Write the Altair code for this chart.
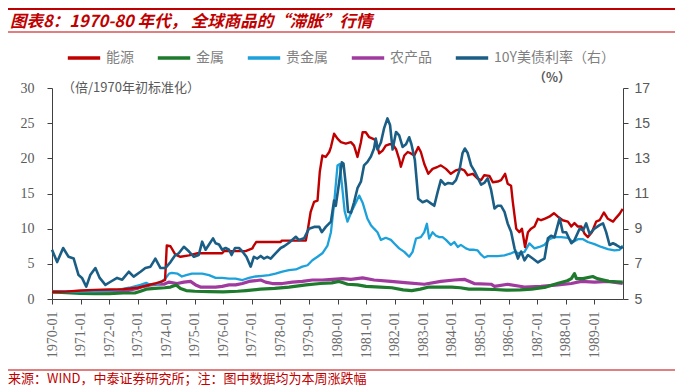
import altair as alt
import pandas as pd

names = ["能源", "金属", "贵金属", "农产品", "10Y美债利率（右）"]
colors = ["#C00000", "#1E7B2E", "#1DA1DB", "#A03A9E", "#1B5E85"]

# 能源 (left axis, 倍)
energy_t = [1970.0, 1970.5, 1971.0, 1971.5, 1972.0, 1972.5, 1973.0, 1973.3, 1973.6, 1973.85, 1973.96, 1974.02, 1974.15, 1974.32, 1974.5, 1974.8, 1975.1, 1975.96, 1976.02, 1976.78, 1977.02, 1977.07, 1977.15, 1978.01, 1978.05, 1978.89, 1978.95, 1979.06, 1979.18, 1979.3, 1979.38, 1979.47, 1979.59, 1979.71, 1979.77, 1979.88, 1980.0, 1980.12, 1980.29, 1980.47, 1980.58, 1980.7, 1980.82, 1980.88, 1980.99, 1981.11, 1981.23, 1981.34, 1981.46, 1981.58, 1981.69, 1981.81, 1981.93, 1982.05, 1982.16, 1982.22, 1982.34, 1982.46, 1982.57, 1982.69, 1982.83, 1982.92, 1983.04, 1983.18, 1983.33, 1983.51, 1983.62, 1983.8, 1983.97, 1984.15, 1984.32, 1984.44, 1984.56, 1984.74, 1984.91, 1985.03, 1985.14, 1985.32, 1985.44, 1985.61, 1985.73, 1985.87, 1985.96, 1986.08, 1986.14, 1986.26, 1986.37, 1986.46, 1986.57, 1986.67, 1986.78, 1986.9, 1987.02, 1987.13, 1987.25, 1987.42, 1987.58, 1987.72, 1987.89, 1988.07, 1988.19, 1988.3, 1988.42, 1988.54, 1988.65, 1988.77, 1988.91, 1989.06, 1989.18, 1989.33, 1989.47, 1989.65, 1989.75, 1989.88, 1989.99]
energy_v = [1.0, 1.05, 1.2, 1.3, 1.35, 1.4, 1.6, 1.9, 2.2, 2.5, 2.7, 7.6, 7.5, 6.3, 6.0, 6.2, 6.5, 6.5, 6.8, 6.8, 7.2, 7.6, 8.1, 8.1, 8.3, 8.3, 9.6, 12.4, 13.8, 14.0, 18.1, 20.4, 20.2, 20.9, 21.6, 23.5, 22.8, 22.3, 22.1, 22.3, 21.8, 20.2, 22.3, 23.7, 23.7, 23.0, 22.8, 22.6, 20.7, 21.1, 21.8, 22.0, 22.0, 21.3, 19.9, 18.8, 20.4, 20.9, 20.7, 20.4, 21.6, 20.9, 19.2, 17.8, 18.5, 18.8, 19.0, 18.5, 17.8, 18.3, 18.5, 18.3, 17.6, 17.8, 17.1, 16.9, 17.6, 17.5, 16.6, 16.7, 16.9, 17.8, 16.4, 16.1, 13.8, 10.0, 9.5, 10.0, 7.4, 9.5, 10.0, 10.3, 11.4, 11.2, 11.4, 11.7, 12.2, 11.7, 11.2, 11.0, 10.3, 10.8, 10.3, 10.3, 9.3, 8.8, 9.5, 11.0, 11.2, 12.3, 11.4, 11.0, 11.5, 12.1, 12.8]

# 金属
metals_t = [1970.0, 1970.5, 1971.0, 1971.5, 1972.0, 1972.5, 1972.9, 1973.1, 1973.3, 1973.6, 1973.95, 1974.15, 1974.35, 1974.5, 1974.7, 1975.0, 1975.5, 1976.0, 1976.5, 1976.8, 1977.3, 1977.8, 1978.3, 1978.9, 1979.4, 1979.8, 1980.05, 1980.2, 1980.35, 1980.7, 1981.0, 1981.5, 1981.9, 1982.3, 1982.6, 1982.9, 1983.2, 1983.6, 1984.0, 1984.3, 1984.6, 1985.0, 1985.5, 1985.9, 1986.4, 1986.8, 1987.3, 1987.7, 1988.05, 1988.19, 1988.3, 1988.37, 1988.6, 1988.94, 1989.1, 1989.5, 1989.8, 1989.99]
metals_v = [1.0, 0.9, 0.8, 0.75, 0.75, 0.85, 0.85, 1.1, 1.4, 1.5, 1.6, 1.7, 2.0, 1.5, 1.2, 1.1, 1.05, 1.0, 1.1, 1.2, 1.4, 1.5, 1.7, 2.0, 2.2, 2.3, 2.5, 2.3, 2.1, 2.0, 1.8, 1.7, 1.6, 1.3, 1.2, 1.4, 1.7, 1.7, 1.7, 1.6, 1.4, 1.4, 1.35, 1.25, 1.3, 1.4, 1.7, 2.2, 2.6, 2.9, 3.6, 2.9, 2.9, 3.2, 2.9, 2.5, 2.45, 2.4]

# 贵金属
precious_t = [1970.0, 1970.5, 1971.0, 1971.5, 1972.0, 1972.3, 1972.7, 1972.9, 1973.1, 1973.3, 1973.45, 1973.75, 1973.97, 1974.1, 1974.2, 1974.4, 1974.55, 1974.7, 1974.9, 1975.03, 1975.26, 1975.5, 1975.73, 1975.96, 1976.2, 1976.43, 1976.67, 1976.9, 1977.13, 1977.37, 1977.6, 1977.83, 1978.07, 1978.3, 1978.54, 1978.77, 1978.95, 1979.12, 1979.3, 1979.47, 1979.65, 1979.77, 1979.88, 1980.0, 1980.08, 1980.16, 1980.25, 1980.35, 1980.5, 1980.62, 1980.76, 1980.88, 1981.05, 1981.17, 1981.28, 1981.4, 1981.52, 1981.69, 1981.87, 1981.99, 1982.16, 1982.34, 1982.51, 1982.63, 1982.75, 1982.92, 1983.04, 1983.13, 1983.21, 1983.33, 1983.45, 1983.57, 1983.68, 1983.8, 1983.97, 1984.09, 1984.21, 1984.32, 1984.5, 1984.62, 1984.79, 1984.91, 1985.03, 1985.14, 1985.26, 1985.38, 1985.61, 1985.85, 1986.08, 1986.2, 1986.37, 1986.55, 1986.72, 1986.9, 1987.07, 1987.25, 1987.42, 1987.6, 1987.83, 1988.07, 1988.25, 1988.42, 1988.6, 1988.77, 1989.0, 1989.24, 1989.47, 1989.7, 1989.88, 1989.99]
precious_v = [1.0, 1.0, 1.05, 1.1, 1.15, 1.3, 1.6, 1.8, 2.0, 2.3, 2.0, 2.2, 2.9, 3.6, 3.7, 3.6, 3.2, 3.4, 3.6, 3.6, 3.6, 3.4, 3.0, 3.0, 2.9, 2.9, 2.7, 3.0, 3.2, 3.3, 3.4, 3.6, 3.9, 4.1, 4.2, 4.6, 4.8, 5.5, 6.0, 6.5, 7.6, 9.5, 13.5, 19.0, 19.2, 16.1, 12.5, 11.0, 12.5, 13.5, 14.7, 13.7, 11.4, 10.5, 10.0, 9.5, 8.4, 8.7, 8.4, 7.9, 7.2, 6.7, 6.0, 6.7, 8.6, 8.8, 9.5, 10.7, 8.6, 9.5, 9.0, 8.8, 8.8, 8.4, 7.7, 8.1, 7.4, 7.7, 7.2, 7.0, 7.0, 6.9, 6.3, 5.9, 6.1, 6.1, 6.1, 6.2, 6.5, 6.7, 6.5, 6.7, 7.9, 7.2, 7.4, 7.7, 8.5, 8.8, 8.8, 8.7, 8.1, 8.5, 8.5, 8.1, 7.8, 7.4, 7.1, 6.9, 7.0, 7.6]

# 农产品
agri_t = [1970.0, 1971.0, 1972.0, 1972.3, 1972.63, 1972.98, 1973.21, 1973.45, 1973.68, 1973.92, 1974.09, 1974.38, 1974.62, 1974.85, 1975.03, 1975.2, 1975.5, 1975.73, 1975.96, 1976.2, 1976.43, 1976.67, 1976.9, 1977.13, 1977.31, 1977.48, 1977.72, 1978.07, 1978.42, 1978.77, 1979.12, 1979.47, 1979.82, 1980.18, 1980.47, 1980.88, 1981.28, 1981.87, 1982.46, 1983.04, 1983.62, 1984.09, 1984.44, 1984.79, 1985.38, 1985.5, 1985.96, 1986.55, 1987.13, 1987.72, 1988.19, 1988.54, 1989.0, 1989.47, 1989.99]
agri_v = [1.0, 1.05, 1.1, 1.1, 1.2, 1.5, 1.8, 2.0, 2.1, 2.1, 2.4, 2.2, 2.4, 2.5, 2.0, 1.7, 1.7, 1.7, 1.8, 2.0, 2.0, 2.2, 2.5, 2.6, 2.7, 2.4, 2.2, 2.2, 2.4, 2.5, 2.7, 2.7, 2.8, 2.9, 2.8, 3.0, 2.7, 2.5, 2.3, 2.1, 2.5, 2.7, 2.8, 2.2, 2.1, 1.8, 2.1, 1.7, 1.8, 2.0, 2.2, 2.5, 2.4, 2.5, 2.2]

# 10Y美债利率 (right axis, %)
rate_t = [1970.0, 1970.18, 1970.39, 1970.58, 1970.76, 1970.93, 1971.05, 1971.2, 1971.34, 1971.52, 1971.67, 1971.87, 1972.05, 1972.28, 1972.46, 1972.69, 1972.86, 1973.1, 1973.27, 1973.45, 1973.62, 1973.8, 1973.97, 1974.15, 1974.32, 1974.44, 1974.62, 1974.8, 1974.97, 1975.14, 1975.26, 1975.38, 1975.5, 1975.64, 1975.73, 1975.85, 1975.96, 1976.08, 1976.2, 1976.29, 1976.41, 1976.55, 1976.67, 1976.81, 1976.96, 1977.07, 1977.19, 1977.31, 1977.42, 1977.54, 1977.66, 1977.83, 1978.01, 1978.13, 1978.3, 1978.54, 1978.65, 1978.83, 1979.0, 1979.18, 1979.36, 1979.45, 1979.59, 1979.77, 1979.88, 1979.94, 1980.06, 1980.15, 1980.21, 1980.29, 1980.37, 1980.47, 1980.58, 1980.7, 1980.82, 1980.93, 1981.05, 1981.17, 1981.28, 1981.34, 1981.4, 1981.52, 1981.63, 1981.75, 1981.84, 1981.93, 1982.05, 1982.16, 1982.28, 1982.4, 1982.51, 1982.59, 1982.71, 1982.83, 1982.98, 1983.13, 1983.27, 1983.39, 1983.51, 1983.62, 1983.76, 1983.88, 1984.03, 1984.15, 1984.27, 1984.38, 1984.46, 1984.56, 1984.68, 1984.79, 1984.91, 1985.03, 1985.14, 1985.26, 1985.38, 1985.5, 1985.61, 1985.73, 1985.85, 1985.96, 1986.08, 1986.2, 1986.32, 1986.43, 1986.55, 1986.67, 1986.84, 1987.02, 1987.13, 1987.25, 1987.37, 1987.48, 1987.6, 1987.78, 1987.89, 1988.01, 1988.19, 1988.3, 1988.48, 1988.6, 1988.71, 1988.83, 1989.0, 1989.18, 1989.3, 1989.41, 1989.53, 1989.65, 1989.77, 1989.94, 1989.99]
rate_v = [7.8, 7.1, 7.9, 7.4, 7.3, 6.36, 6.2, 5.7, 6.36, 6.76, 6.2, 5.8, 5.98, 6.2, 6.1, 6.55, 6.27, 6.55, 6.76, 6.84, 7.3, 6.76, 6.76, 7.1, 7.5, 7.6, 7.97, 7.7, 7.4, 7.5, 8.26, 7.8, 8.1, 8.45, 8.17, 8.1, 7.8, 7.9, 7.8, 7.5, 7.9, 7.9, 7.7, 7.4, 6.84, 7.4, 7.3, 7.45, 7.3, 7.4, 7.3, 7.6, 7.9, 8.0, 8.2, 8.54, 8.35, 8.45, 9.0, 9.1, 9.1, 8.8, 9.1, 9.4, 10.6, 10.3, 11.67, 12.77, 12.7, 11.5, 9.96, 9.9, 10.5, 11.3, 11.67, 12.6, 12.8, 13.1, 13.56, 14.13, 13.5, 13.9, 14.7, 15.27, 14.9, 13.5, 14.5, 14.3, 13.65, 13.8, 14.2, 13.8, 12.9, 10.7, 10.5, 10.6, 10.44, 10.3, 11.1, 11.76, 11.5, 11.6, 11.55, 11.76, 12.3, 13.3, 13.56, 13.3, 12.6, 12.3, 11.9, 11.5, 11.6, 11.86, 11.2, 10.15, 10.3, 10.3, 9.96, 9.3, 8.83, 7.88, 7.3, 7.7, 7.2, 7.5, 7.3, 7.08, 7.2, 7.3, 8.45, 8.6, 8.5, 9.6, 8.8, 8.8, 8.17, 8.35, 9.0, 8.9, 9.3, 8.7, 9.0, 9.2, 9.3, 8.8, 8.07, 8.17, 8.07, 7.9, 7.97]

year_ticks = list(range(1970, 1990))
left_ticks = [0, 5, 10, 15, 20, 25, 30]
right_ticks = [5, 7, 9, 11, 13, 15, 17]

title_text = "图表8：1970-80 年代， 全球商品的“滞胀”行情"
unit_left = "（倍/1970年初标准化）"
unit_right = "（%）"
source_text = "来源：WIND，中泰证券研究所；注：图中数据均为本周涨跌幅"

W, H = 571, 211
PAD = {"left": 44, "top": 80, "right": 52, "bottom": 88}
GRAY = "#595959"
AXC = "#404040"


def frame(name, ts, vs):
    return pd.DataFrame({"series": name, "t": ts, "v": vs})


color = alt.Color(
    "series:N",
    scale=alt.Scale(domain=names, range=colors),
    legend=alt.Legend(
        title=None, orient="none", legendX=14, legendY=-48, direction="horizontal",
        columns=5, symbolType="stroke", symbolStrokeWidth=3.5, symbolSize=1050,
        labelFont="Noto Sans CJK SC", labelFontSize=14, labelColor="#7f7f7f",
        columnPadding=16, labelOffset=4, padding=0,
    ),
)

xenc = alt.X(
    "t:Q",
    scale=alt.Scale(domain=[1970, 1990], nice=False, zero=False),
    axis=alt.Axis(
        values=year_ticks, labelExpr="datum.value + '-01'", labelAngle=270,
        title=None, grid=False, tickSize=5, labelPadding=7,
        labelFont="Liberation Serif", labelFontSize=14, labelColor="#6b6b6b",
        domainColor=AXC, tickColor=AXC, labelOverlap=False,
    ),
)

yleft = alt.Y(
    "v:Q",
    scale=alt.Scale(domain=[0, 30], nice=False),
    axis=alt.Axis(
        values=left_ticks, orient="left", title=None, grid=False, tickSize=5,
        labelPadding=13, labelFont="Liberation Serif", labelFontSize=14,
        labelColor=GRAY, domainColor=AXC, tickColor=AXC,
    ),
)

yright = alt.Y(
    "v:Q",
    scale=alt.Scale(domain=[5, 17], nice=False, zero=False),
    axis=alt.Axis(
        values=right_ticks, orient="right", title=None, grid=False, tickSize=5,
        labelPadding=6, labelFont="Liberation Sans", labelFontSize=14,
        labelColor=GRAY, domainColor=AXC, tickColor=AXC,
    ),
)


def line(df, w):
    return alt.Chart(df).mark_line(strokeWidth=w, strokeJoin="round").encode(
        x=xenc, y=yleft, color=color
    )


left = alt.layer(
    line(frame(names[3], agri_t, agri_v), 3.2),
    line(frame(names[1], metals_t, metals_v), 3.2),
    line(frame(names[2], precious_t, precious_v), 2.3),
    line(frame(names[0], energy_t, energy_v), 2.4),
)

right = alt.Chart(frame(names[4], rate_t, rate_v)).mark_line(
    strokeWidth=2.6, strokeJoin="round"
).encode(x=xenc, y=yright, color=color)


def text(txt, x, y, **kw):
    return alt.Chart(pd.DataFrame({"s": [txt]})).mark_text(**kw).encode(
        text="s:N", x=alt.value(x), y=alt.value(y)
    )


def hrule(y, w):
    return alt.Chart(pd.DataFrame({"a": [0]})).mark_rule(
        color="#C00000", strokeWidth=w
    ).encode(x=alt.value(-44), x2=alt.value(W + 52), y=alt.value(y))


title = text(title_text, -42, -66, align="left", baseline="middle",
             font="Noto Sans CJK SC", fontSize=16.5, fontWeight="bold",
             fontStyle="italic", color="#C00000")
ul = text(unit_left, 10, 0, align="left", baseline="middle",
          font="Noto Sans CJK SC", fontSize=13, color=GRAY)
ur = text(unit_right, 500, -10, align="center", baseline="middle",
          font="Noto Sans CJK SC", fontSize=12.5, fontWeight="bold", color=GRAY)
src = text(source_text, -44, 291, align="left", baseline="middle",
           font="Noto Sans CJK SC", fontSize=13, color="#C00000")

chart = alt.layer(
    left, right, hrule(-79, 2.2), hrule(-56, 1.2), hrule(282, 1.2), title, ul, ur, src
).resolve_scale(y="independent").properties(
    width=W, height=H, padding=PAD, autosize=alt.AutoSizeParams(type="none")
).configure_view(stroke=None).configure_axis(grid=False)

chart.save("out.html", embed_options={"renderer": "svg", "actions": False})
